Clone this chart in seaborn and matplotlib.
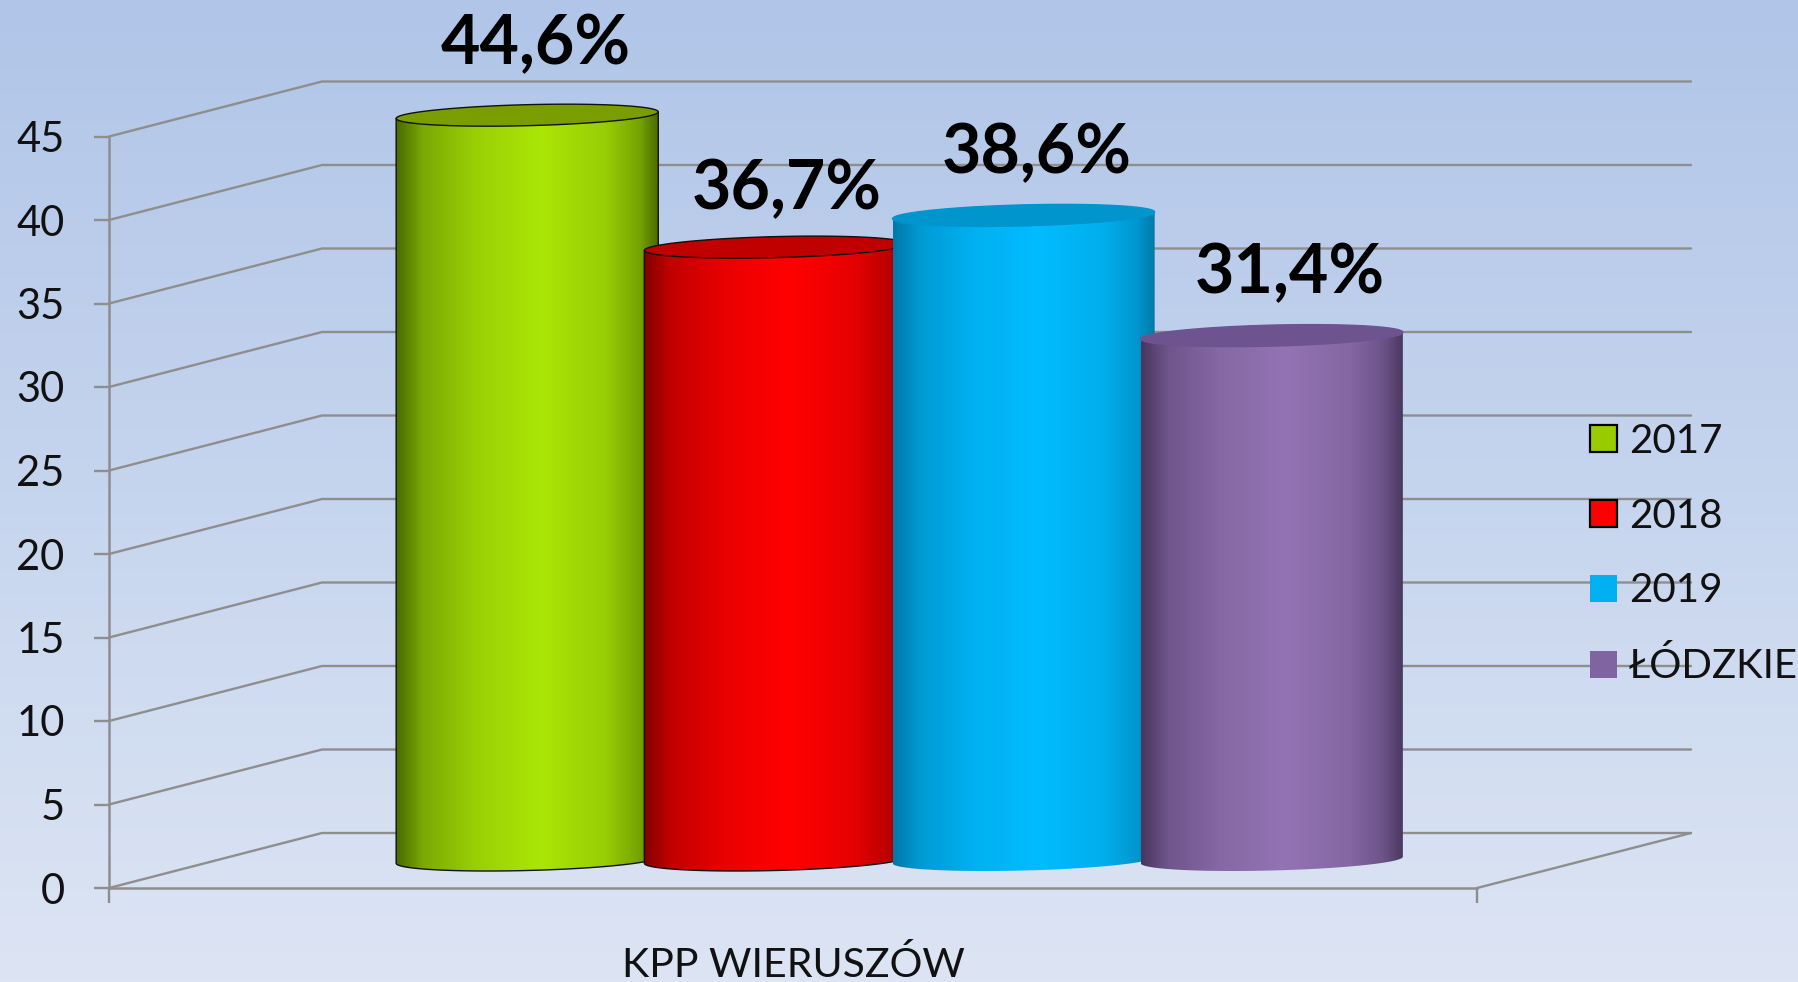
import numpy as np
import pandas as pd
import seaborn as sns
import matplotlib.pyplot as plt
from matplotlib.colors import LinearSegmentedColormap, to_rgb
from matplotlib.patches import Patch, Polygon

# chart values
series = ["2017", "2018", "2019", "ŁÓDZKIE"]
values = [44.6, 36.7, 38.6, 31.4]
value_labels = ["44,6%", "36,7%", "38,6%", "31,4%"]
group_label = "KPP WIERUSZÓW"
y_ticks = [0, 5, 10, 15, 20, 25, 30, 35, 40, 45]

# colours
legend_colors = ["#99cc00", "#ff0000", "#00b0f0", "#8064a2"]
bright_colors = ["#aae606", "#ff0000", "#00bcff", "#9373b4"]
edge_colors = ["#4b6c00", "#850000", "#0079a8", "#4a3760"]
top_colors = ["#7a9e00", "#c00000", "#0095cc", "#6d5490"]
outlined = [True, True, False, False]
grid_color = "#8e8e8e"

W, H = 1798, 982
PX_PER_UNIT = 16.7
BASE_Y = 860

sns.set_style("white")
plt.rcParams["font.family"] = ["Lato", "DejaVu Sans"]

fig = plt.figure(figsize=(W / 100, H / 100), dpi=100)


def px_axes(left, right, bottom, top):
    return fig.add_axes([left / W, 1 - bottom / H, (right - left) / W, (bottom - top) / H])


# background gradient
ax_bg = fig.add_axes([0, 0, 1, 1], zorder=0)
bg = LinearSegmentedColormap.from_list("bg", ["#b0c5e8", "#c6d5ee", "#dde5f4"])
ax_bg.imshow(np.linspace(0, 1, 256)[:, None], cmap=bg, aspect="auto")
ax_bg.axis("off")

# front plane of the 3d box, real axis and ticks
ax = px_axes(109, 1477, 888, 888 - 45 * PX_PER_UNIT)
ax.set_zorder(1)
ax.patch.set_alpha(0)
ax.set_xlim(0, 1)
ax.set_ylim(0, 45)
ax.set_yticks(y_ticks)
ax.set_xticks([0, 1])
ax.set_xticklabels(["", ""])
ax.tick_params(axis="y", direction="out", length=11, width=1.7, color=grid_color,
               labelsize=30, labelcolor="#111111", pad=21, left=True)
ax.tick_params(axis="x", direction="out", length=11, width=1.7, color=grid_color, bottom=True)
ax.set_xlabel(group_label, fontsize=29.5, color="#111111", labelpad=27)
for side in ["top", "right"]:
    ax.spines[side].set_visible(False)
for side in ["left", "bottom"]:
    ax.spines[side].set_color(grid_color)
    ax.spines[side].set_linewidth(1.8)

# side wall and back wall
depth_x = 213 / 1368
depth_y = 55 / PX_PER_UNIT
wall_end = 1582 / 1368
for v in y_ticks:
    ax.plot([0, depth_x, wall_end], [v, v + depth_y, v + depth_y], color=grid_color,
            lw=1.7, clip_on=False, solid_joinstyle="miter")
ax.plot([1, wall_end], [0, depth_y], color=grid_color, lw=1.7, clip_on=False)

# bars, base sits above the front axis line
ax_bars = px_axes(279, 1520, BASE_Y + 1.5 * PX_PER_UNIT, BASE_Y - 47 * PX_PER_UNIT)
ax_bars.set_zorder(2)
ax_bars.patch.set_alpha(0)
df = pd.DataFrame({"series": series, "value": values})
sns.barplot(data=df, x="series", y="value", hue="series", palette=legend_colors,
            width=1.056, saturation=1, legend=False, ax=ax_bars)
ax_bars.set_xlim(-1, 4)
ax_bars.set_ylim(-1.5, 47)
ax_bars.axis("off")

b = 10.5 / PX_PER_UNIT
k = 3.3 / PX_PER_UNIT


def ring(cx, half, yc, t):
    return np.column_stack([cx + half * np.cos(t), yc + b * np.sin(t) + k * np.cos(t)])


def mix(edge, bright, amount):
    return tuple((1 - amount) * np.array(to_rgb(edge)) + amount * np.array(to_rgb(bright)))


label_offsets = [(9, 71), (11, 58), (13, 62), (18, 62)]

for i, bar in enumerate(ax_bars.patches):
    bar.set_visible(False)
    x0, w, h = bar.get_x(), bar.get_width(), bar.get_height()
    cx, half = x0 + w / 2, w / 2
    z = 3 + i * 3

    low = ring(cx, half, 0, np.linspace(np.pi, 2 * np.pi, 80))
    high = ring(cx, half, h, np.linspace(0, np.pi, 80))
    body = Polygon(np.vstack([low, high]), closed=True, transform=ax_bars.transData,
                   facecolor="none", edgecolor="none")
    ax_bars.add_patch(body)

    cmap = LinearSegmentedColormap.from_list(
        f"bar{i}",
        [(0, edge_colors[i]),
         (0.1, mix(edge_colors[i], bright_colors[i], 0.5)),
         (0.3, mix(edge_colors[i], bright_colors[i], 0.82)),
         (0.55, bright_colors[i]),
         (0.8, mix(edge_colors[i], bright_colors[i], 0.8)),
         (0.93, mix(edge_colors[i], bright_colors[i], 0.45)),
         (1, edge_colors[i])],
    )
    im = ax_bars.imshow(np.linspace(0, 1, 300)[None, :], cmap=cmap, aspect="auto",
                        extent=[x0, x0 + w, -1.5, h + 1.5], zorder=z)
    im.set_clip_path(body)

    top = Polygon(ring(cx, half, h, np.linspace(0, 2 * np.pi, 160)), closed=True,
                  facecolor=top_colors[i], zorder=z + 1,
                  edgecolor="#111111" if outlined[i] else top_colors[i], lw=1.0)
    ax_bars.add_patch(top)
    if outlined[i]:
        outline = np.vstack([high[-1:], low, high[:1]])
        ax_bars.plot(outline[:, 0], outline[:, 1], color="#111111", lw=1.0, zorder=z + 1)

    dx, dy = label_offsets[i]
    ax_bars.annotate(value_labels[i], (cx, h), xytext=(dx * 0.72, dy * 0.72),
                     textcoords="offset points", ha="center", va="center",
                     fontsize=49, fontweight="bold", color="black", zorder=30)

ax_bars.set_xlim(-1, 4)
ax_bars.set_ylim(-1.5, 47)

# legend
handles = []
for name, color, has_edge in zip(series, legend_colors, outlined):
    handles.append(Patch(facecolor=color, edgecolor="black" if has_edge else color,
                         lw=1.6 if has_edge else 0, label=name))
leg = fig.legend(handles=handles, loc="center left", bbox_to_anchor=(1570 / W, 1 - 554 / H),
                 frameon=False, fontsize=29, labelcolor="#111111", labelspacing=0.94,
                 handlelength=0.66, handleheight=0.66, handletextpad=0.3, borderpad=0)
leg.set_zorder(40)

fig.savefig("out.png", dpi=100)
